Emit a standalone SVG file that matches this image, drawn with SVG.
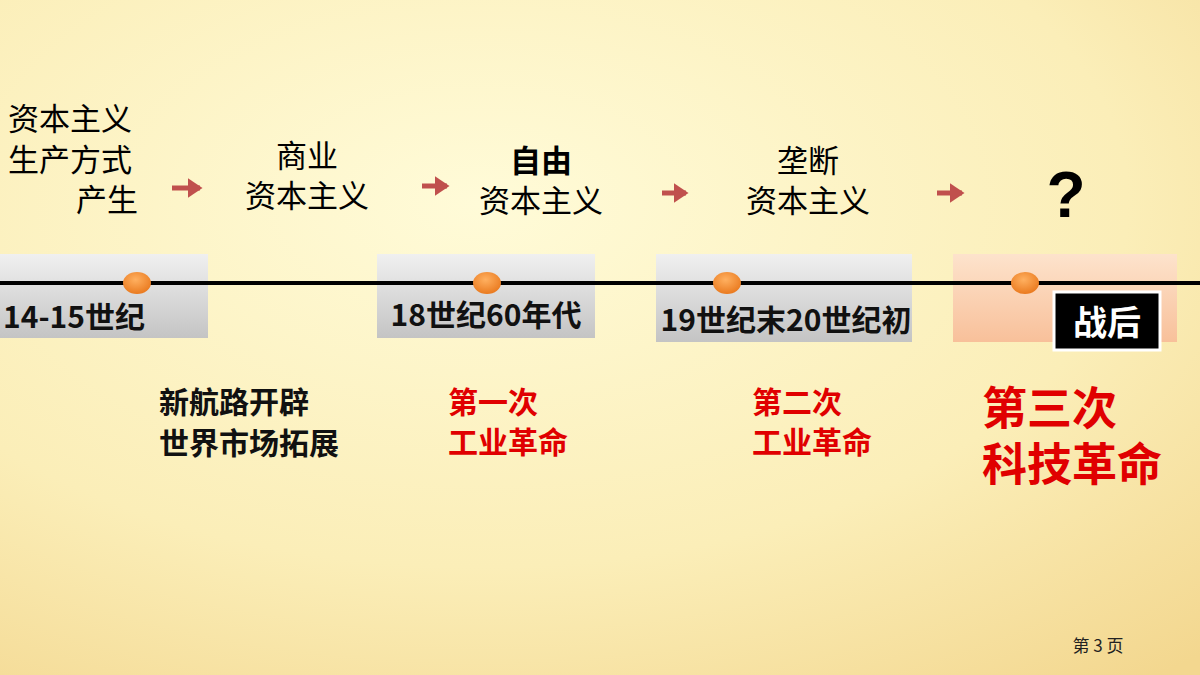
<svg xmlns="http://www.w3.org/2000/svg" width="1200" height="675" viewBox="0 0 1200 675">
<defs>
<radialGradient id="bg" cx="0.4" cy="0.3" r="0.9"><stop offset="0" stop-color="#fffbd8"/><stop offset="0.6" stop-color="#fbeeb8"/><stop offset="1" stop-color="#f3d78f"/></radialGradient>
<linearGradient id="gray" x1="0" y1="0" x2="0" y2="1"><stop offset="0" stop-color="#f0f0f0"/><stop offset="1" stop-color="#c4c4c4"/></linearGradient>
<linearGradient id="peach" x1="0" y1="0" x2="0" y2="1"><stop offset="0" stop-color="#fde3cc"/><stop offset="1" stop-color="#f8c09a"/></linearGradient>
<radialGradient id="dot" cx="0.45" cy="0.35" r="0.7"><stop offset="0" stop-color="#ffb060"/><stop offset="1" stop-color="#e8761a"/></radialGradient>
<marker id="ah" markerWidth="4" markerHeight="4" refX="2.5" refY="2" orient="auto" markerUnits="strokeWidth"><path d="M0,0 L3,2 L0,4 Z" fill="#c0504d"/></marker>
</defs>
<style>
.t{font-family:"Noto Sans CJK SC","Liberation Sans",sans-serif;font-size:31px;fill:#000}
.b{font-family:"Noto Sans CJK SC","Liberation Sans",sans-serif;font-size:30px;font-weight:bold;fill:#111}
.r{font-family:"Noto Sans CJK SC","Liberation Sans",sans-serif;font-weight:bold;fill:#e00000}
.ar{stroke:#c0504d;stroke-width:5;fill:none;marker-end:url(#ah)}
</style>
<rect width="1200" height="675" fill="url(#bg)"/>
<g id="boxes">
<rect x="0" y="254" width="208" height="84" fill="url(#gray)"/>
<rect x="377" y="254" width="218" height="84" fill="url(#gray)"/>
<rect x="656" y="254" width="256" height="88" fill="url(#gray)"/>
<rect x="953" y="254" width="224" height="88" fill="url(#peach)"/>
</g>
<g id="connectors">
<line x1="0" y1="283" x2="1200" y2="283" stroke="#000" stroke-width="4"/>
<line class="ar" x1="172" y1="188" x2="200" y2="188"/>
<line class="ar" x1="422" y1="186" x2="447" y2="186"/>
<line class="ar" x1="662" y1="193" x2="686" y2="193"/>
<line class="ar" x1="937" y1="193" x2="962" y2="193"/>
</g>
<g id="dots">
<ellipse cx="137" cy="283" rx="14" ry="11" fill="url(#dot)"/>
<ellipse cx="487" cy="283" rx="14" ry="11" fill="url(#dot)"/>
<ellipse cx="727" cy="283" rx="14" ry="11" fill="url(#dot)"/>
<ellipse cx="1025" cy="283" rx="14" ry="11" fill="url(#dot)"/>
</g>
<g id="n1"><text class="t" x="8" y="130">资本主义</text><text class="t" x="8" y="171">生产方式</text><text class="t" x="138" y="211" text-anchor="end">产生</text><text class="b" x="3" y="328">14-15世纪</text></g>
<g id="n2"><text class="t" x="307" y="167" text-anchor="middle">商业</text><text class="t" x="307" y="207" text-anchor="middle">资本主义</text>
<text class="b" x="159" y="413">新航路开辟</text><text class="b" x="159" y="454">世界市场拓展</text></g>
<g id="n3"><text class="t" x="541" y="172" text-anchor="middle" font-weight="bold">自由</text><text class="t" x="541" y="212" text-anchor="middle">资本主义</text><text class="b" x="486" y="326" text-anchor="middle">18世纪60年代</text>
<text class="r" x="448" y="413" font-size="30">第一次</text><text class="r" x="448" y="453" font-size="30">工业革命</text></g>
<g id="n4"><text class="t" x="808" y="172" text-anchor="middle">垄断</text><text class="t" x="808" y="212" text-anchor="middle">资本主义</text><text class="b" x="786" y="331" text-anchor="middle">19世纪末20世纪初</text>
<text class="r" x="752" y="413" font-size="30">第二次</text><text class="r" x="752" y="453" font-size="30">工业革命</text></g>
<g id="n5"><text x="1066" y="217" text-anchor="middle" font-family="Liberation Sans,sans-serif" font-weight="bold" font-size="64">?</text>
<rect x="1054" y="292" width="106" height="58" fill="#000" stroke="#fff" stroke-width="3"/>
<text x="1107" y="335" text-anchor="middle" font-family="Noto Sans CJK SC,sans-serif" font-weight="bold" font-size="34" fill="#fff">战后</text>
<text class="r" x="982" y="425" font-size="45">第三次</text><text class="r" x="982" y="481" font-size="45">科技革命</text></g>
<text x="1098" y="652" text-anchor="middle" font-family="Noto Sans CJK SC,sans-serif" font-size="17" fill="#222">第 3 页</text>
</svg>
